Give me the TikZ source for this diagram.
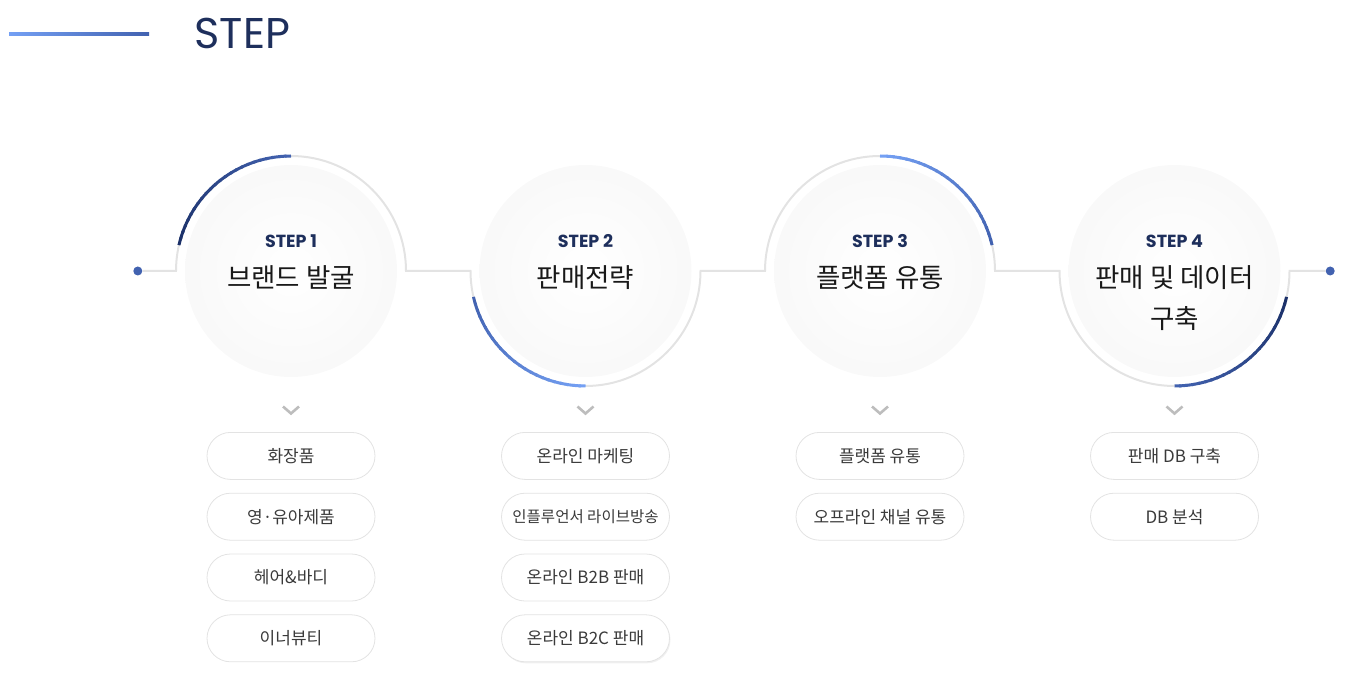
\documentclass[tikz,border=0pt]{standalone}
\usepackage{fontspec}
\setmainfont{Noto Sans CJK KR}
\newfontfamily\stepfont{Poppins}
\usepackage{tikz}
\usetikzlibrary{positioning,calc,shapes.misc,shadows}
\definecolor{navy_blue}{HTML}{1B3068}
\definecolor{mid_blue}{HTML}{4262B0}
\definecolor{light_blue}{HTML}{74A0F4}
\definecolor{ring_gray}{HTML}{E3E3E3}
\definecolor{text_gray}{HTML}{3A3A3A}
\definecolor{chev_gray}{HTML}{BDBDBD}
\definecolor{title_navy}{HTML}{1E2F5C}

\begin{document}
\begin{tikzpicture}[x=1pt,y=1pt,
    ring/.style={circle,minimum size=230pt,inner sep=0pt,outer sep=0pt},
    disc/.style={circle,minimum size=212pt,inner sep=0pt,shading=radial,inner color=white,outer color=gray!5},
    ringline/.style={ring_gray,line width=2pt},
    pill/.style={rounded rectangle,draw=ring_gray,line width=0.8pt,fill=white,minimum width=168pt,minimum height=47pt,inner sep=0pt,font=\fontsize{17}{17}\selectfont,text=text_gray},
    steplbl/.style={font=\stepfont\bfseries\fontsize{17.5}{17.5}\selectfont,text=title_navy},
    mainlbl/.style={font=\fontsize{26.5}{40}\selectfont,align=center,anchor=base,text=black!90},
    dot/.style={circle,fill=mid_blue,minimum size=9pt,inner sep=0pt},
    chev/.style={chev_gray,line width=2.6pt},
  ]
  \useasboundingbox (0,0) rectangle (1372,-684);
  % title
  \shade[left color=light_blue,right color=mid_blue] (9,-32.5) rectangle (149,-35.5);
  \node[anchor=west,font=\stepfont\fontsize{43}{43}\selectfont,text=title_navy] (title) at (191,-33) {STEP};

  % circles
  \node[ring] (ring1) at (291,-271) {};
  \node[ring,right=64.5pt of ring1] (ring2) {};
  \node[ring,right=64.5pt of ring2] (ring3) {};
  \node[ring,right=64.5pt of ring3] (ring4) {};
  \node[disc] (disc1) at (ring1) {};
  \node[disc] (disc2) at (ring2) {};
  \node[disc] (disc3) at (ring3) {};
  \node[disc] (disc4) at (ring4) {};
  \node[dot,left=33.5pt of ring1] (dotL) {};
  \node[dot,right=36pt of ring4] (dotR) {};

  \draw[ringline] (dotL) -- (ring1.west) arc[start angle=180,end angle=0,radius=115]
    -- (ring2.west) arc[start angle=180,end angle=360,radius=115]
    -- (ring3.west) arc[start angle=180,end angle=0,radius=115]
    -- (ring4.west) arc[start angle=180,end angle=360,radius=115] -- (dotR);

  % coloured arcs
  \foreach \r/\sa/\ea/\ca/\cb in {ring1/167/90/navy_blue/mid_blue, ring2/193/270/mid_blue/light_blue,
      ring3/90/13/light_blue/mid_blue, ring4/347/270/navy_blue/mid_blue}{
    \foreach \i in {0,...,23}{
      \pgfmathsetmacro\p{100-\i*100/23}
      \pgfmathsetmacro\aa{\sa+(\ea-\sa)*\i/24}
      \pgfmathsetmacro\bb{\sa+(\ea-\sa)*min(\i+1.3,24)/24}
      \draw[line width=3pt,\ca!\p!\cb] ($(\r)+(\aa:115)$) arc[start angle=\aa,end angle=\bb,radius=115];
    }
  }

  % labels
  \node[steplbl] (st1) at ($(ring1)+(0,30)$) {STEP 1};
  \node[steplbl] (st2) at ($(ring2)+(0,30)$) {STEP 2};
  \node[steplbl] (st3) at ($(ring3)+(0,30)$) {STEP 3};
  \node[steplbl] (st4) at ($(ring4)+(0,30)$) {STEP 4};
  \node[mainlbl] (lb1) at ($(ring1)+(0,-17)$) {브랜드 발굴};
  \node[mainlbl] (lb2) at ($(ring2)+(0,-17)$) {판매전략};
  \node[mainlbl] (lb3) at ($(ring3)+(0,-17)$) {플랫폼 유통};
  \node[mainlbl] (lb4) at ($(ring4)+(0,-57)$) {판매 및 데이터\\구축};

  % items
  \node[pill,below=46pt of ring1] (p1a) {화장품};
  \node[pill,below=13pt of p1a] (p1b) {영·유아제품};
  \node[pill,below=13pt of p1b] (p1c) {헤어\&바디};
  \node[pill,below=13pt of p1c] (p1d) {이너뷰티};
  \node[pill,below=46pt of ring2] (p2a) {온라인 마케팅};
  \node[pill,below=13pt of p2a,font=\fontsize{15.5}{15.5}\selectfont] (p2b) {인플루언서 라이브방송};
  \node[pill,below=13pt of p2b] (p2c) {온라인 B2B 판매};
  \node[pill,below=13pt of p2c,drop shadow={opacity=0.12,shadow xshift=1pt,shadow yshift=-1.5pt}] (p2d) {온라인 B2C 판매};
  \node[pill,below=46pt of ring3] (p3a) {플랫폼 유통};
  \node[pill,below=13pt of p3a] (p3b) {오프라인 채널 유통};
  \node[pill,below=46pt of ring4] (p4a) {판매 DB 구축};
  \node[pill,below=13pt of p4a] (p4b) {DB 분석};

  % chevrons
  \foreach \n in {1,...,4}{
    \coordinate (chev\n) at ($(ring\n.south)!0.5!(p\n a.north)+(0,-1.5)$);
    \draw[chev] ($(chev\n)+(-8,4)$) -- ++(8,-7) -- ++(8,7);
  }
\end{tikzpicture}
\end{document}
